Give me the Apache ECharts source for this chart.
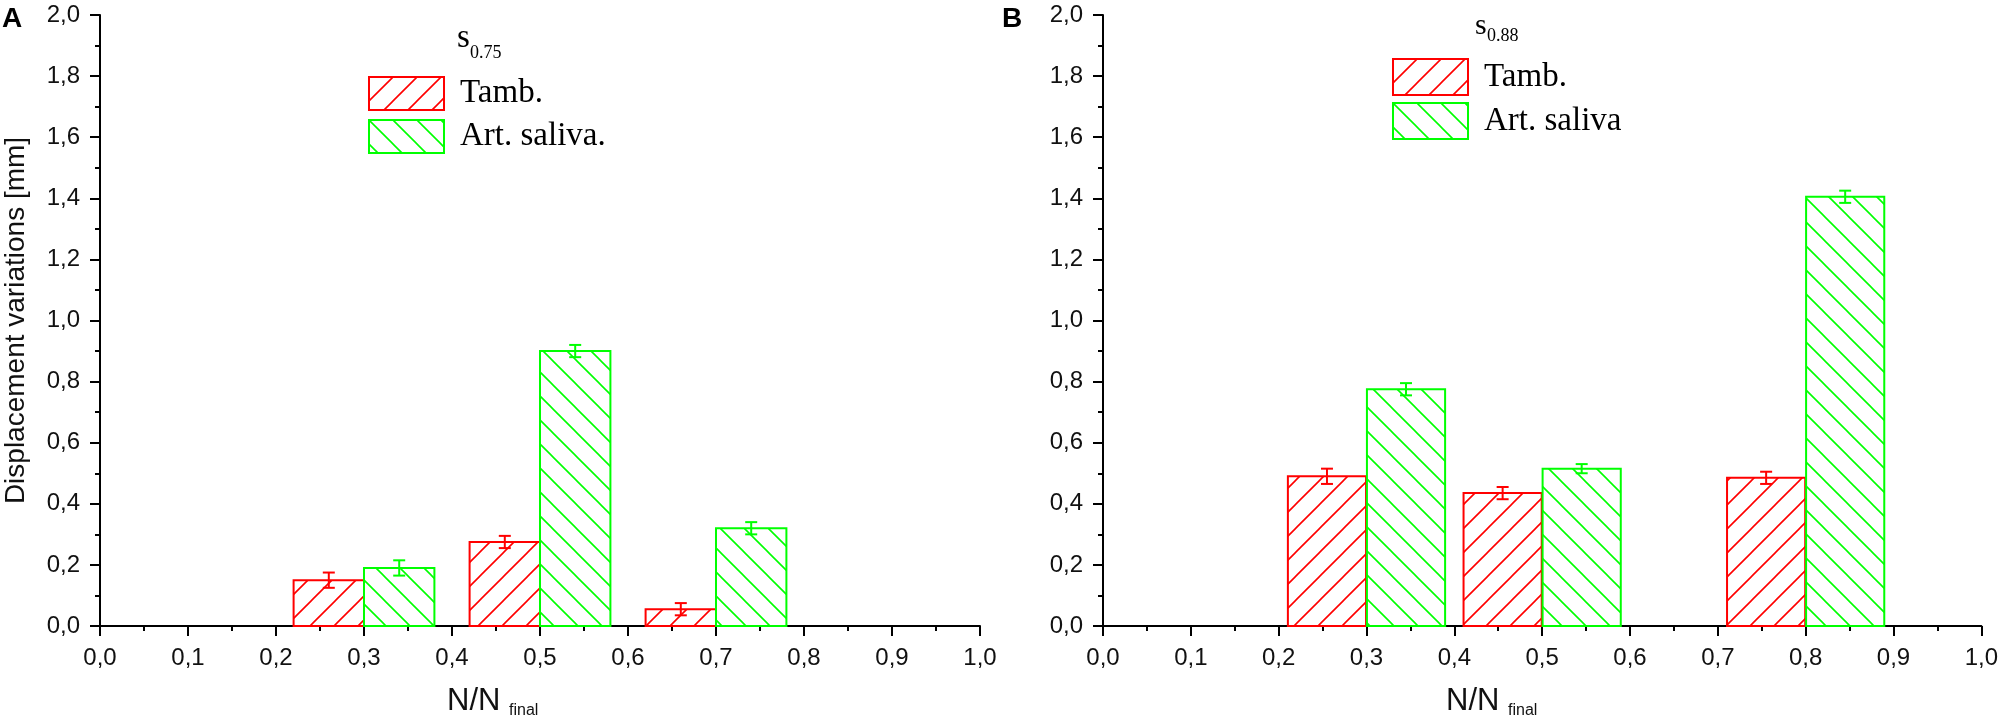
<!DOCTYPE html>
<html>
<head>
<meta charset="utf-8">
<script src="https://cdn.jsdelivr.net/npm/echarts@6/dist/echarts.min.js"></script>
<style>
html,body{margin:0;padding:0;background:#fff;}
#chart{width:2001px;height:728px;}
</style>
</head>
<body>
<div id="chart"></div>
<script>
// ---- data ----
const panelLabels = ['A', 'B'];
const legendTitles = ['0.75', '0.88'];
const seriesNamesLeft = ['Tamb.', 'Art. saliva.'];
const seriesNamesRight = ['Tamb.', 'Art. saliva'];
const xAxisTitle = 'N/N';
const xAxisTitleSub = 'final';
const yAxisTitle = 'Displacement variations [mm]';

const leftTambX = [0.26, 0.46, 0.66];
const leftTambY = [0.15, 0.275, 0.055];
const leftTambErr = [0.025, 0.02, 0.02];
const leftSalX = [0.34, 0.54, 0.74];
const leftSalY = [0.19, 0.90, 0.32];
const leftSalErr = [0.025, 0.02, 0.02];

const rightTambX = [0.255, 0.455, 0.755];
const rightTambY = [0.49, 0.435, 0.485];
const rightTambErr = [0.025, 0.02, 0.02];
const rightSalX = [0.345, 0.545, 0.845];
const rightSalY = [0.775, 0.515, 1.405];
const rightSalErr = [0.02, 0.015, 0.02];

const RED = '#ff0000';
const GREEN = '#00ff00';
const LEFT_BAR_W = 0.08;
const RIGHT_BAR_W = 0.089;

function makeHatch(color, forward) {
  const s = 24;
  const c = document.createElement('canvas');
  c.width = s; c.height = s;
  const g = c.getContext('2d');
  g.fillStyle = '#fff';
  g.fillRect(0, 0, s, s);
  g.strokeStyle = color;
  g.lineWidth = 1.6;
  g.beginPath();
  if (forward) {
    g.moveTo(-4, s + 4); g.lineTo(s + 4, -4);
    g.moveTo(-4, 4); g.lineTo(4, -4);
    g.moveTo(s - 4, s + 4); g.lineTo(s + 4, s - 4);
  } else {
    g.moveTo(-4, -4); g.lineTo(s + 4, s + 4);
    g.moveTo(-4, s - 4); g.lineTo(4, s + 4);
    g.moveTo(s - 4, -4); g.lineTo(s + 4, 4);
  }
  g.stroke();
  return { image: c, repeat: 'repeat' };
}
const redHatch = makeHatch(RED, true);
const greenHatch = makeHatch(GREEN, false);

const fmt = v => v.toFixed(1).replace('.', ',');

function zip(xs, ys, es) { return xs.map((x, i) => es ? [x, ys[i], es[i]] : [x, ys[i]]); }

function barSeries(name, idx, xs, ys, w, pattern, color) {
  return {
    type: 'custom', name: name, xAxisIndex: idx, yAxisIndex: idx,
    data: zip(xs, ys), encode: { x: 0, y: 1 },
    itemStyle: { color: pattern, borderColor: color, borderWidth: 2 },
    renderItem: function (params, api) {
      const x = api.value(0), v = api.value(1);
      const p0 = api.coord([x - w / 2, 0]);
      const p1 = api.coord([x + w / 2, v]);
      return {
        type: 'rect',
        shape: { x: p0[0], y: p1[1], width: p1[0] - p0[0], height: p0[1] - p1[1] },
        style: { fill: pattern, stroke: color, lineWidth: 2 }
      };
    },
    z: 2
  };
}
function errSeries(idx, xs, ys, es, color) {
  return {
    type: 'custom', xAxisIndex: idx, yAxisIndex: idx,
    data: zip(xs, ys, es), encode: { x: 0, y: 1 },
    renderItem: function (params, api) {
      const x = api.value(0), v = api.value(1), e = api.value(2);
      const hi = api.coord([x, v + e]);
      const lo = api.coord([x, v - e]);
      const cap = 6;
      const st = { stroke: color, lineWidth: 2 };
      return {
        type: 'group', children: [
          { type: 'line', shape: { x1: hi[0], y1: hi[1], x2: lo[0], y2: lo[1] }, style: st },
          { type: 'line', shape: { x1: hi[0] - cap, y1: hi[1], x2: hi[0] + cap, y2: hi[1] }, style: st },
          { type: 'line', shape: { x1: lo[0] - cap, y1: lo[1], x2: lo[0] + cap, y2: lo[1] }, style: st }
        ]
      };
    },
    z: 5, silent: true
  };
}

const axisCommon = {
  axisLine: { show: true, onZero: false, lineStyle: { color: '#000', width: 2 } },
  axisTick: { show: true, inside: false, length: 10, lineStyle: { color: '#000', width: 2 } },
  minorTick: { show: true, splitNumber: 2, length: 5, lineStyle: { color: '#000', width: 2 } },
  splitLine: { show: false },
  minorSplitLine: { show: false },
  axisLabel: { color: '#111', fontSize: 24, fontFamily: 'Liberation Sans', margin: 20, formatter: fmt }
};

function xAxisDef(idx) {
  return Object.assign({ type: 'value', gridIndex: idx, min: 0, max: 1, interval: 0.1 }, JSON.parse(JSON.stringify(axisCommon)), {
    axisLabel: Object.assign({}, axisCommon.axisLabel, { margin: 20 })
  });
}
function yAxisDef(idx) {
  return Object.assign({ type: 'value', gridIndex: idx, min: 0, max: 2, interval: 0.2 }, JSON.parse(JSON.stringify(axisCommon)), {
    axisLabel: Object.assign({}, axisCommon.axisLabel, { margin: 20 }),
    name: idx === 0 ? yAxisTitle : '',
    nameLocation: 'middle', nameRotate: 90, nameGap: 70,
    nameTextStyle: { color: '#111', fontSize: 28, fontFamily: 'Liberation Sans' }
  });
}

const legendText = { color: '#000', fontSize: 33, fontFamily: 'Liberation Serif', lineHeight: 34, padding: [0, 0, 0, 11] };

function txt(x, y, text, size, family, weight) {
  return { type: 'text', left: x, top: y, silent: true,
    style: { text: text, fill: '#000', fontSize: size, fontFamily: family, fontWeight: weight || 'normal', verticalAlign: 'middle', textVerticalAlign: 'middle' } };
}

const option = {
  backgroundColor: '#fff',
  animation: false,
  grid: [
    { left: 100, top: 15, width: 880, height: 611 },
    { left: 1103, top: 15, width: 880, height: 611 }
  ],
  xAxis: [xAxisDef(0), xAxisDef(1)],
  yAxis: [yAxisDef(0), yAxisDef(1)],
  legend: [
    { data: seriesNamesLeft, orient: 'vertical', left: 363, top: 71, itemWidth: 75, itemHeight: 33, itemGap: 8,
      icon: 'rect', selectedMode: false, textStyle: legendText,
      itemStyle: { borderWidth: 2 } },
    { data: seriesNamesRight, orient: 'vertical', left: 1387, top: 53, itemWidth: 75, itemHeight: 36, itemGap: 6,
      icon: 'rect', selectedMode: false, textStyle: Object.assign({}, legendText, { lineHeight: 36 }),
      itemStyle: { borderWidth: 2 } }
  ],
  graphic: [
    { type: 'text', left: 2, top: 5, silent: true, style: { text: panelLabels[0], fill: '#000', fontSize: 28, fontWeight: 'bold', fontFamily: 'Liberation Sans' } },
    { type: 'text', left: 1002, top: 5, silent: true, style: { text: panelLabels[1], fill: '#000', fontSize: 28, fontWeight: 'bold', fontFamily: 'Liberation Sans' } },
    { type: 'text', left: 457, top: 22, silent: true, style: { text: 's', fill: '#000', fontSize: 33, fontFamily: 'Liberation Serif' } },
    { type: 'text', left: 470, top: 44, silent: true, style: { text: legendTitles[0], fill: '#000', fontSize: 18, fontFamily: 'Liberation Serif' } },
    { type: 'text', left: 1475, top: 11, silent: true, style: { text: 's', fill: '#000', fontSize: 30, fontFamily: 'Liberation Serif' } },
    { type: 'text', left: 1487, top: 27, silent: true, style: { text: legendTitles[1], fill: '#000', fontSize: 18, fontFamily: 'Liberation Serif' } },
    { type: 'text', left: 447, top: 686, silent: true, style: { text: xAxisTitle, fill: '#111', fontSize: 31, fontFamily: 'Liberation Sans' } },
    { type: 'text', left: 509, top: 703, silent: true, style: { text: xAxisTitleSub, fill: '#111', fontSize: 16, fontFamily: 'Liberation Sans' } },
    { type: 'text', left: 1446, top: 686, silent: true, style: { text: xAxisTitle, fill: '#111', fontSize: 31, fontFamily: 'Liberation Sans' } },
    { type: 'text', left: 1508, top: 703, silent: true, style: { text: xAxisTitleSub, fill: '#111', fontSize: 16, fontFamily: 'Liberation Sans' } }
  ],
  series: [
    barSeries(seriesNamesLeft[0], 0, leftTambX, leftTambY, LEFT_BAR_W, redHatch, RED),
    barSeries(seriesNamesLeft[1], 0, leftSalX, leftSalY, LEFT_BAR_W, greenHatch, GREEN),
    errSeries(0, leftTambX, leftTambY, leftTambErr, RED),
    errSeries(0, leftSalX, leftSalY, leftSalErr, GREEN),
    barSeries(seriesNamesRight[0], 1, rightTambX, rightTambY, RIGHT_BAR_W, redHatch, RED),
    barSeries(seriesNamesRight[1], 1, rightSalX, rightSalY, RIGHT_BAR_W, greenHatch, GREEN),
    errSeries(1, rightTambX, rightTambY, rightTambErr, RED),
    errSeries(1, rightSalX, rightSalY, rightSalErr, GREEN)
  ]
};

const chart = echarts.init(document.getElementById('chart'), null, { renderer: 'canvas' });
chart.setOption(option);
</script>
</body>
</html>
